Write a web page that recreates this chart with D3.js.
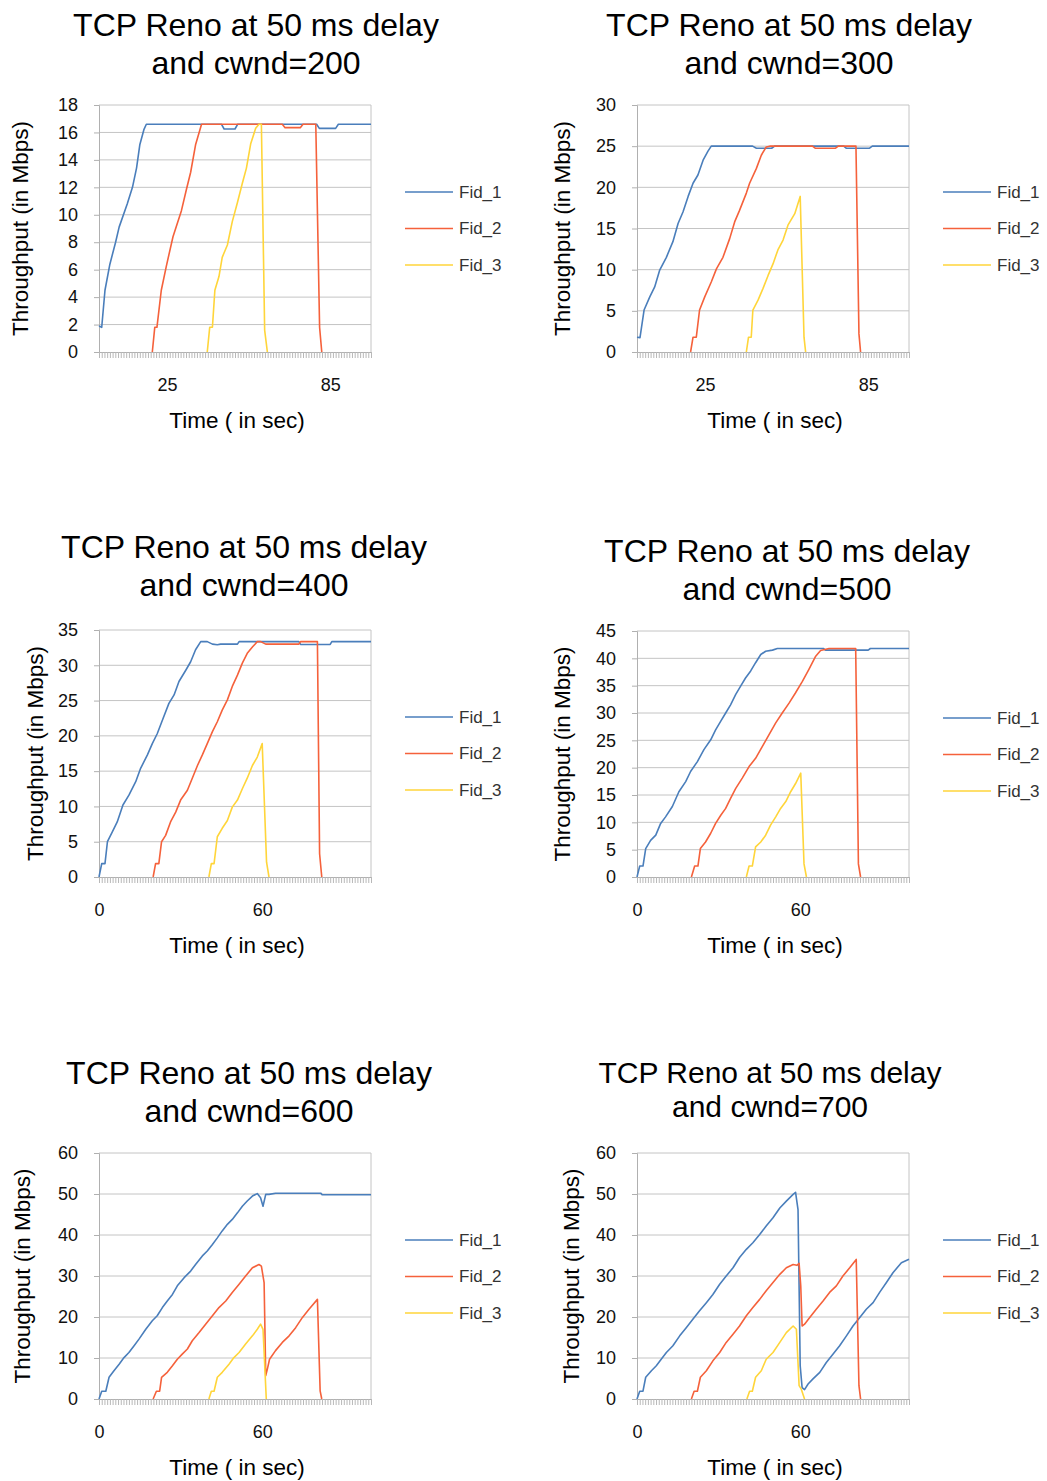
<!DOCTYPE html>
<html>
<head>
<meta charset="utf-8">
<script src="https://cdn.jsdelivr.net/npm/d3@7"></script>
<style>
  body { margin: 0; background: #fff; }
  svg { display: block; font-family: "Liberation Sans", Arial, sans-serif; }
</style>
</head>
<body>
<div id="chart"></div>
<script>
// Panel parameters
const cwndList = [200, 300, 400, 500, 600, 700];
const yMaxList = [18, 30, 35, 45, 60, 60];
const yStepList = [2, 5, 5, 5, 10, 10];
const xLabelList = [[25, 85], [25, 85], [0, 60], [0, 60], [0, 60], [0, 60]];
const seriesNames = ["Fid_1", "Fid_2", "Fid_3"];
const seriesColors = ["#4a7ebb", "#f5613b", "#ffd53a"];

// [time (s), throughput (Mbps)]
const cwnd200Fid1 = [[0,1.9],[1,1.8],[2.2,4.5],[4,6.4],[6.1,8.0],[7.4,9.1],[10.4,10.8],[12.3,12.0],[13.8,13.4],[15,15.1],[16.5,16.2],[17.4,16.6],[45,16.6],[46,16.25],[50,16.25],[51,16.6],[80,16.6],[81,16.3],[87,16.3],[88,16.6],[100,16.6]];
const cwnd200Fid2 = [[19.6,0],[20.5,1.8],[21.3,1.8],[22.9,4.5],[24.8,6.3],[27.2,8.4],[30.3,10.3],[32.2,11.9],[33.7,13.1],[35.5,15.1],[37.7,16.6],[67.4,16.6],[68.4,16.35],[74,16.35],[75,16.6],[79.7,16.6],[81.1,1.8],[81.9,0]];
const cwnd200Fid3 = [[39.8,0],[40.7,1.8],[41.7,1.8],[42.6,4.5],[44.1,5.5],[45.3,6.9],[47.2,7.8],[49,9.5],[50.9,10.9],[52.7,12.3],[54.2,13.4],[55.8,15.2],[57.6,16.3],[58.8,16.6],[59.7,16.6],[60.9,1.6],[61.9,0]];

const cwnd300Fid1 = [[0,1.8],[1.1,1.75],[2.6,5.1],[4.7,6.7],[6.5,7.9],[8.3,9.9],[10.8,11.5],[13.2,13.4],[15.1,15.6],[16.9,17.0],[18.8,18.9],[20.6,20.5],[22.4,21.5],[24.3,23.3],[26.1,24.4],[27.3,25],[42.5,25],[43.9,24.75],[49.5,24.75],[50.6,25],[76,25],[76.9,24.75],[85.5,24.75],[86.5,25],[100,25]];
const cwnd300Fid2 = [[19.7,0],[20.6,1.8],[21.8,1.8],[23,5.1],[24.9,6.7],[27.3,8.5],[29.2,10.1],[31.6,11.5],[34.1,13.8],[35.9,15.8],[37.7,17.2],[40.2,19.3],[41.4,20.5],[43.9,22.3],[45.7,23.9],[47.5,24.9],[48.8,25],[64.5,25],[65.5,24.75],[73,24.75],[74,25],[80.5,25],[81.6,2.2],[82.2,0]];
const cwnd300Fid3 = [[40.2,0],[41,1.8],[42,1.8],[42.6,5.1],[44.5,6.3],[46.3,7.7],[48.2,9.3],[50,10.7],[51.8,12.4],[53.7,13.6],[55.5,15.4],[58,16.8],[60,18.9],[61.4,1.8],[62,0]];

const cwnd400Fid1 = [[0,0],[1,1.9],[2.2,1.9],[3.1,5.0],[4.9,6.4],[6.7,7.8],[8.8,10.2],[11,11.6],[13.5,13.5],[15.3,15.4],[17.8,17.3],[19.6,18.9],[21.4,20.3],[23.3,22.2],[25.7,24.6],[27.6,25.8],[29.4,27.7],[31.9,29.3],[33.7,30.5],[35.5,32.2],[37.4,33.35],[39.8,33.35],[41.7,33.0],[43.5,32.9],[44.7,33.0],[50.9,33.0],[51.5,33.35],[73.5,33.35],[74.1,32.95],[85,32.95],[85.6,33.35],[100,33.35]];
const cwnd400Fid2 = [[19.9,0],[20.8,1.9],[22,1.9],[23,5.0],[24.5,5.9],[26.3,7.8],[28.2,9.2],[30,10.9],[32.5,12.3],[34.3,14.0],[36.2,15.8],[38,17.3],[39.8,18.9],[41.7,20.6],[43.5,22.0],[45.3,23.65],[47.2,25.1],[49,27.0],[50.9,28.6],[52.7,30.3],[54.5,31.7],[56.4,32.6],[58.2,33.35],[59.4,33.35],[61.3,33.0],[73.5,33.0],[74.1,33.35],[80.3,33.35],[81.1,3.3],[81.9,0]];
const cwnd400Fid3 = [[40.4,0],[41.3,1.9],[42.3,1.9],[43.5,5.7],[45.3,6.9],[47.2,8.0],[49,9.9],[50.9,10.9],[52.7,12.5],[54.5,14.0],[56.4,15.8],[58.2,17.0],[60,18.9],[61.6,2.1],[62.5,0]];

const cwnd500Fid1 = [[0,0],[1,2.0],[2.2,2.0],[3.2,5.2],[5,6.7],[6.9,7.65],[8.7,9.8],[10.5,11.0],[13,12.9],[15.4,15.6],[17.9,17.45],[19.7,19.3],[22.2,21.1],[24.6,23.3],[27.1,25.1],[28.9,26.9],[30.8,28.5],[32.6,30.0],[34.4,31.5],[36.3,33.4],[38.1,34.9],[39.9,36.4],[41.8,37.7],[43.6,39.2],[45.5,40.7],[47.3,41.3],[49.8,41.5],[51.6,41.8],[68.5,41.8],[69.3,41.5],[85,41.5],[85.8,41.8],[100,41.8]];
const cwnd500Fid2 = [[20,0],[21.2,2.0],[22.4,2.0],[23.3,5.2],[25.2,6.4],[27.1,8.0],[28.9,9.8],[30.8,11.3],[32.6,12.55],[34.4,14.4],[36.3,16.2],[38.7,18.1],[41.2,20.2],[43.6,21.7],[46.1,23.9],[48.5,26.0],[51,28.2],[53.4,30.0],[55.9,31.8],[58.3,33.7],[60.8,35.8],[63.2,38.0],[65.7,40.4],[67.5,41.45],[70.6,41.8],[80.4,41.8],[81.4,2.4],[82.2,0]];
const cwnd500Fid3 = [[40.2,0],[41.2,2.0],[42.4,2.0],[43.6,5.5],[45.5,6.4],[47.3,7.65],[49.1,9.5],[51,11.0],[52.8,12.55],[54.7,13.8],[56.5,15.6],[58.3,17.1],[60.2,19.0],[61.4,2.4],[62.3,0]];

const cwnd600Fid1 = [[0,0],[1,1.9],[2.5,1.9],[3.7,5.3],[5.5,6.9],[7.4,8.5],[9.2,10.1],[11,11.35],[12.9,13.0],[14.7,14.6],[17.2,17.0],[19.6,19.1],[21.4,20.3],[23.3,22.3],[25.1,23.9],[27,25.5],[28.8,27.6],[31.3,29.6],[33.7,31.2],[35.5,32.8],[38,34.9],[39.8,36.1],[41.7,37.7],[43.5,39.3],[45.3,41.0],[47.2,42.6],[49,43.8],[50.9,45.4],[52.7,47.0],[54.5,48.3],[56.4,49.5],[58.2,50.1],[59.4,49.1],[60.3,47.0],[61.3,49.9],[62.5,49.9],[64.9,50.2],[81.5,50.2],[82.1,49.8],[100,49.8]];
const cwnd600Fid2 = [[19.9,0],[21.1,1.9],[22.3,1.9],[23,5.3],[25.1,6.5],[27,8.1],[28.8,9.7],[30.6,10.95],[32.5,12.2],[34.3,14.2],[36.8,16.2],[39.2,18.25],[41.7,20.3],[44.1,22.3],[46.6,23.9],[49,26.0],[51.5,28.0],[53.9,30.0],[56.4,32.0],[58.8,32.8],[59.7,32.4],[60.7,28.4],[61.3,5.7],[61.9,7.3],[62.7,9.7],[64.9,11.8],[67.4,13.8],[69.9,15.4],[72.3,17.4],[74.8,19.9],[77.2,21.9],[80.3,24.3],[81.3,2.0],[81.9,0]];
const cwnd600Fid3 = [[40.4,0],[41.3,1.9],[42.3,1.9],[43.5,5.3],[45.3,6.5],[47.8,8.5],[49.6,10.1],[51.5,11.35],[53.9,13.4],[56.4,15.4],[58.2,17.0],[59.4,18.25],[60.3,17.0],[61.5,0]];

const cwnd700Fid1 = [[0,0],[1,1.9],[2.2,1.9],[3.2,5.3],[5.3,6.9],[7.1,8.1],[8.9,9.7],[10.8,11.35],[13.2,13.0],[15.7,15.4],[18.1,17.4],[20.6,19.5],[23,21.5],[25.5,23.5],[27.9,25.5],[30.4,28.0],[32.8,30.0],[35.3,32.0],[37.7,34.5],[40.2,36.5],[42.6,38.1],[45.1,40.1],[47.5,42.2],[50,44.2],[52.5,46.6],[54.9,48.25],[57.4,49.9],[58.3,50.4],[59.2,46.2],[60,8.1],[60.7,2.8],[61.6,2.3],[62.9,3.65],[64.7,4.9],[67.2,6.5],[69.6,8.9],[72.1,10.95],[74.5,13.0],[77,15.4],[79.4,17.8],[81.9,19.9],[84.3,21.9],[86.8,23.5],[89.2,26.0],[91.7,28.4],[94.1,30.8],[97.2,33.25],[100,34.1]];
const cwnd700Fid2 = [[20,0],[21,1.9],[22.2,1.9],[23.3,5.3],[25.5,6.9],[27.9,9.3],[30.4,11.35],[32.8,13.8],[35.3,15.8],[37.7,17.8],[40.2,20.3],[42.6,22.3],[45.1,24.3],[47.5,26.4],[50,28.4],[52.5,30.4],[54.9,32.0],[57.4,32.8],[58.8,32.6],[59.6,33.1],[60.2,27.6],[60.7,17.8],[61.6,18.25],[63.5,19.9],[65.9,21.9],[68.4,23.9],[70.8,26.0],[73.3,27.6],[75.7,30.0],[78.2,32.0],[80.6,34.05],[81.6,3.25],[82.2,0]];
const cwnd700Fid3 = [[40.4,0],[41.4,1.9],[42.4,1.9],[43.6,5.3],[45.7,6.9],[47.5,9.7],[50,11.35],[52.5,13.8],[54.9,16.2],[57.4,17.8],[58.6,17.0],[59.6,3.25],[60.4,2.4],[61.6,0]];

const panelSeries = [
  [cwnd200Fid1, cwnd200Fid2, cwnd200Fid3],
  [cwnd300Fid1, cwnd300Fid2, cwnd300Fid3],
  [cwnd400Fid1, cwnd400Fid2, cwnd400Fid3],
  [cwnd500Fid1, cwnd500Fid2, cwnd500Fid3],
  [cwnd600Fid1, cwnd600Fid2, cwnd600Fid3],
  [cwnd700Fid1, cwnd700Fid2, cwnd700Fid3]
];

// Where each panel sits on the page
const layout = [
  { px: 99,  py: 105,  tx: 256, ty: 25,   ts: 32, yt: 20 },
  { px: 637, py: 105,  tx: 789, ty: 25,   ts: 32, yt: 562 },
  { px: 99,  py: 630,  tx: 244, ty: 547,  ts: 32, yt: 35 },
  { px: 637, py: 631,  tx: 787, ty: 551,  ts: 32, yt: 562 },
  { px: 99,  py: 1153, tx: 249, ty: 1073, ts: 32, yt: 22 },
  { px: 637, py: 1153, tx: 770, ty: 1072, ts: 30, yt: 571 }
];
const plotW = 272;

let svg = d3.select("#chart").append("svg")
  .attr("width", 1047)
  .attr("height", 1481);

cwndList.forEach((cwnd, i) => {
  let L = layout[i];
  let plotH = i <= 2 ? 247 : 246;
  let g = svg.append("g");

  let x = d3.scaleLinear().domain([0, 100]).range([L.px, L.px + plotW]);
  let y = d3.scaleLinear().domain([0, yMaxList[i]]).range([L.py + plotH, L.py]);
  let yTicks = d3.range(0, yMaxList[i] + 0.001, yStepList[i]);

  // Title, two lines
  let lineGap = L.ts === 30 ? 34 : 38;
  ["TCP Reno at 50 ms delay", "and cwnd=" + cwnd].forEach((t, k) => {
    g.append("text")
      .attr("x", L.tx)
      .attr("y", L.ty + k * lineGap)
      .attr("text-anchor", "middle")
      .attr("dominant-baseline", "central")
      .style("font-size", L.ts + "px")
      .style("fill", "#000")
      .text(t);
  });

  // Gridlines
  g.append("g")
    .selectAll("line")
    .data(yTicks.slice(1))
    .enter().append("line")
    .attr("x1", L.px).attr("x2", L.px + plotW)
    .attr("y1", d => y(d)).attr("y2", d => y(d))
    .attr("stroke", "#c4c4c4")
    .attr("stroke-width", 1);

  // Plot border on the right side
  g.append("line")
    .attr("x1", L.px + plotW).attr("x2", L.px + plotW)
    .attr("y1", L.py).attr("y2", L.py + plotH)
    .attr("stroke", "#c4c4c4");

  // Y axis
  let yAxis = g.append("g")
    .attr("transform", `translate(${L.px},0)`)
    .call(d3.axisLeft(y).tickValues(yTicks).tickSize(5).tickPadding(16));
  yAxis.select(".domain").attr("stroke", "#b0b0b0");
  yAxis.selectAll(".tick line").attr("stroke", "#b0b0b0");
  yAxis.selectAll(".tick text")
    .style("font-size", "18px")
    .style("font-family", "'Liberation Sans', Arial, sans-serif")
    .style("fill", "#111");

  // X axis: a small tick for every second
  let xAxis = g.append("g")
    .attr("transform", `translate(0,${L.py + plotH})`)
    .call(d3.axisBottom(x).tickValues(d3.range(0, 101)).tickSize(6).tickSizeOuter(0).tickFormat(""));
  xAxis.select(".domain").attr("stroke", "#b0b0b0");
  xAxis.selectAll(".tick line").attr("stroke", "#b8b8b8");

  let xLab = g.append("g")
    .attr("transform", `translate(0,${L.py + plotH})`)
    .call(d3.axisBottom(x).tickValues(xLabelList[i]).tickSize(0).tickPadding(26));
  xLab.select(".domain").remove();
  xLab.selectAll(".tick text")
    .style("font-size", "18px")
    .style("font-family", "'Liberation Sans', Arial, sans-serif")
    .style("fill", "#111");

  // Axis titles
  g.append("text")
    .attr("x", L.px + plotW / 2 + 2)
    .attr("y", L.py + plotH + 68)
    .attr("text-anchor", "middle")
    .attr("dominant-baseline", "central")
    .style("font-size", "22.5px")
    .style("fill", "#000")
    .text("Time ( in sec)");

  g.append("text")
    .attr("transform", `translate(${L.yt},${L.py + plotH / 2}) rotate(-90)`)
    .attr("text-anchor", "middle")
    .attr("dominant-baseline", "central")
    .style("font-size", "22.5px")
    .style("fill", "#000")
    .text("Throughput (in Mbps)");

  // Series lines
  let line = d3.line().x(d => x(d[0])).y(d => y(d[1]));
  panelSeries[i].forEach((s, k) => {
    g.append("path")
      .datum(s)
      .attr("d", line)
      .attr("fill", "none")
      .attr("stroke", seriesColors[k])
      .attr("stroke-width", 1.6)
      .attr("stroke-linejoin", "round");
  });

  // Legend
  let lx = L.px + plotW + 34;
  seriesNames.forEach((name, k) => {
    let ly = L.py + 87 + k * 36.5;
    g.append("line")
      .attr("x1", lx).attr("x2", lx + 48)
      .attr("y1", ly).attr("y2", ly)
      .attr("stroke", seriesColors[k])
      .attr("stroke-width", 1.6);
    g.append("text")
      .attr("x", lx + 54)
      .attr("y", ly)
      .attr("dominant-baseline", "central")
      .style("font-size", "17px")
      .style("fill", "#333")
      .text(name);
  });
});
</script>
</body>
</html>
